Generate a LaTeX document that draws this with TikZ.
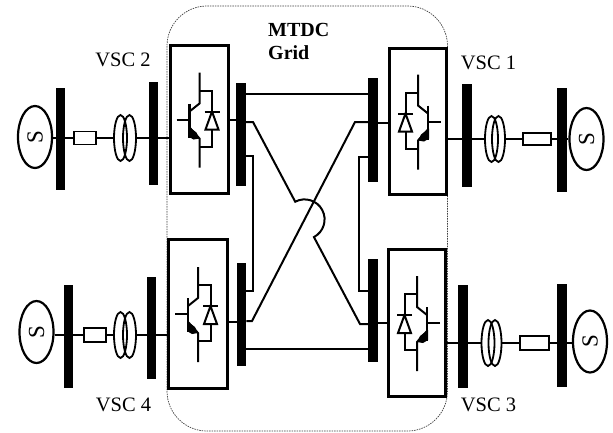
\documentclass[tikz,border=0pt]{standalone}
\usepackage{fontspec}
\setmainfont{Liberation Serif}
\usetikzlibrary{shapes.geometric,calc}
\begin{document}
\begin{tikzpicture}[x=1pt,y=-1pt,
  bus/.style={fill=black,inner sep=0pt,minimum width=9.5pt,rectangle},
  conv/.style={draw,line width=3pt,inner sep=0pt,rectangle},
  gen/.style={draw,ellipse,line width=2.2pt,inner sep=0pt,minimum width=34pt,minimum height=62pt,font=\fontsize{23}{23}\selectfont},
  res/.style={draw,line width=1.8pt,inner sep=0pt,rectangle},
  coil/.style={draw,ellipse,line width=1.8pt,inner sep=0pt,minimum width=13pt,minimum height=46pt},
  wire/.style={line width=2pt},
  sym/.style={line width=2pt},
  lbl/.style={font=\fontsize{20.5}{20.5}\selectfont,inner sep=0pt},
  boundary/.style={draw=black!75,line width=0.7pt,dash pattern=on 1.5pt off 1pt},
  igbt/.pic={
    \draw[sym] (0,-47) -- (0,-16) -- (-10,-8);
    \draw[line width=2.6pt] (-10,-16) -- (-10,18);
    \draw[sym] (-23,0) -- (-10,0);
    \draw[sym] (-10,8) -- (0,19) -- (0,48);
    \fill (-11,7) -- (-3,13) -- (0,19) -- (-6,20) -- (-11,17) -- cycle;
    \draw[sym] (0,-29) -- (12.5,-29) -- (12.5,-8);
    \draw[sym] (5,-8) -- (20,-8);
    \draw[sym,line join=miter] (12.5,-8) -- (6,10) -- (19,10) -- cycle;
    \draw[sym] (12.5,10) -- (12.5,27) -- (0,27);
  }
]
\useasboundingbox (0,0) rectangle (613,432);

% MTDC grid boundary
\draw[boundary,rounded corners=40pt] (167,6) rectangle (447.5,431);
\node[lbl,anchor=west,font=\fontsize{20}{20}\selectfont\bfseries] (mtdc) at (268,30) {MTDC};
\node[lbl,anchor=west,font=\fontsize{20}{20}\selectfont\bfseries] (grid) at (268,53) {Grid};

% ---------- VSC 2 (top left) ----------
\node[gen] (g2) at (35,137) {\rotatebox{90}{S}};
\node[bus,minimum height=102pt] (gb2) at (60.5,139) {};
\node[res,minimum width=22pt,minimum height=13pt] (r2) at (85,138) {};
\node[coil] (t2a) at (120.5,138) {};
\node[coil] (t2b) at (129.5,138) {};
\node[bus,minimum height=103pt] (ab2) at (153.5,133.5) {};
\node[conv,minimum width=58pt,minimum height=148pt] (c2) at (199.5,119.5) {};
\node[bus,minimum height=103pt] (dc2) at (241,134.5) {};
\pic at (c2) {igbt};
\node[lbl] (l2) at (123,60) {VSC 2};
\draw[wire] (g2.east |- r2.west) -- (r2.west);
\draw[wire] (r2.east) -- (t2a.west);
\draw[wire] (t2b.east) -- (t2b.east -| c2.west);
\draw[wire] (c2.east |- 0,120) -- (dc2.west |- 0,120);

% ---------- VSC 1 (top right) ----------
\node[gen] (g1) at (586.5,139) {\rotatebox{90}{S}};
\node[bus,minimum height=104pt] (gb1) at (562,140) {};
\node[res,minimum width=28pt,minimum height=12pt] (r1) at (537,139) {};
\node[coil] (t1a) at (498.5,139) {};
\node[coil] (t1b) at (491.5,139) {};
\node[bus,minimum height=103pt] (ab1) at (467,135.5) {};
\node[conv,minimum width=57pt,minimum height=146pt] (c1) at (418,121.5) {};
\node[bus,minimum height=104pt] (dc1) at (373,130) {};
\pic[xscale=-1] at (c1) {igbt};
\node[lbl] (l1) at (488.5,63) {VSC 1};
\draw[wire] (g1.west |- r1.east) -- (r1.east);
\draw[wire] (r1.west) -- (t1a.east);
\draw[wire] (t1b.west) -- (t1b.west -| c1.east);
\draw[wire] (c1.west |- 0,123) -- (dc1.east |- 0,123);

% ---------- VSC 4 (bottom left) ----------
\node[gen] (g4) at (36.5,332) {\rotatebox{90}{S}};
\node[bus,minimum height=103pt] (gb4) at (68.5,336.5) {};
\node[res,minimum width=22pt,minimum height=14pt] (r4) at (95,335) {};
\node[coil] (t4a) at (120.5,335) {};
\node[coil] (t4b) at (129.5,335) {};
\node[bus,minimum height=102pt] (ab4) at (151.5,328) {};
\node[conv,minimum width=59pt,minimum height=149pt] (c4) at (198,314) {};
\node[bus,minimum height=103pt] (dc4) at (241.5,314.5) {};
\pic at (c4) {igbt};
\node[lbl] (l4) at (123.5,405) {VSC 4};
\draw[wire] (g4.east |- r4.west) -- (r4.west);
\draw[wire] (r4.east) -- (t4a.west);
\draw[wire] (t4b.east) -- (t4b.east -| c4.west);
\draw[wire] (c4.east |- 0,322) -- (dc4.west |- 0,322);

% ---------- VSC 3 (bottom right) ----------
\node[gen] (g3) at (590,341.5) {\rotatebox{90}{S}};
\node[bus,minimum height=103pt] (gb3) at (562,335.5) {};
\node[res,minimum width=29pt,minimum height=14pt] (r3) at (534.5,343) {};
\node[coil] (t3a) at (495,343) {};
\node[coil] (t3b) at (488,343) {};
\node[bus,minimum height=103pt] (ab3) at (463,336.5) {};
\node[conv,minimum width=57pt,minimum height=147pt] (c3) at (417,323) {};
\node[bus,minimum height=103pt] (dc3) at (373,310.5) {};
\pic[xscale=-1] at (c3) {igbt};
\node[lbl] (l3) at (488.5,405) {VSC 3};
\draw[wire] (g3.west |- r3.east) -- (r3.east);
\draw[wire] (r3.west) -- (t3a.east);
\draw[wire] (t3b.west) -- (t3b.west -| c3.east);
\draw[wire] (c3.west |- 0,323) -- (dc3.east |- 0,323);

% ---------- DC grid ----------
\draw[wire] (dc2.east |- 0,94) -- (dc1.west |- 0,94);
\draw[wire] (dc4.east |- 0,349) -- (dc3.west |- 0,349);
\draw[wire] (dc2.east |- 0,156) -- (253,156) -- (253,291) -- (dc4.east |- 0,291);
\draw[wire] (dc1.west |- 0,157) -- (359,157) -- (359,291) -- (dc3.west |- 0,291);
\draw[wire] (dc4.east |- 0,321) -- (252,321) -- (355,122) -- (dc1.west |- 0,122);
\draw[wire] (dc2.east |- 0,122) -- (253,122) -- (295.23,201.72)
  arc[start angle=-117.9, end angle=62.1, radius=20] -- (360,324) -- (dc3.west |- 0,324);
\end{tikzpicture}
\end{document}
